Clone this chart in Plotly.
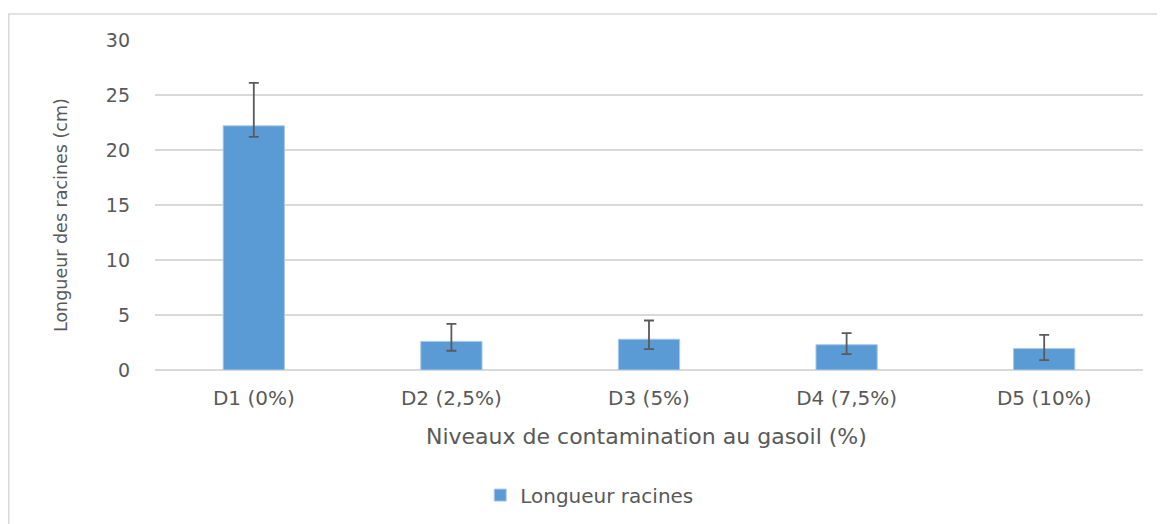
import plotly.graph_objects as go

categories = ["D1 (0%)", "D2 (2,5%)", "D3 (5%)", "D4 (7,5%)", "D5 (10%)"]
values = [22.2, 2.6, 2.8, 2.3, 1.95]
err_plus = [3.9, 1.6, 1.7, 1.05, 1.25]
err_minus = [1.0, 0.85, 0.9, 0.85, 1.05]
series_name = "Longueur racines"
y_ticks = [0, 5, 10, 15, 20, 25, 30]

font_family = "DejaVu Sans, sans-serif"
text_color = "#595959"

fig = go.Figure()
fig.add_trace(go.Bar(
    x=categories, y=values, name=series_name,
    marker=dict(color="#5b9bd5", line=dict(color="#a9c8ea", width=1)),
    width=0.31,
    error_y=dict(type="data", symmetric=False, array=err_plus, arrayminus=err_minus,
                 color="#5a5a5a", thickness=1.8, width=5),
))

fig.update_layout(
    width=1165, height=524,
    margin=dict(l=147, r=30, t=32, b=162, autoexpand=False),
    paper_bgcolor="white", plot_bgcolor="white",
    font=dict(family=font_family, color=text_color, size=19),
    showlegend=True,
    legend=dict(orientation="h", x=0.44, y=-0.379, xanchor="center", yanchor="middle",
                font=dict(size=20, color=text_color), itemwidth=30),
    xaxis=dict(showgrid=False, showline=False, ticks="", ticklabelstandoff=14,
               tickfont=dict(size=20, color=text_color)),
    yaxis=dict(range=[0, 30], tickvals=y_ticks, showgrid=True, gridcolor="#d9d9d9",
               gridwidth=1.5, zeroline=True, zerolinecolor="#d9d9d9", zerolinewidth=1.5,
               showline=False, ticks="", ticklabelstandoff=24,
               tickfont=dict(size=19, color=text_color)),
    shapes=[dict(type="rect", xref="paper", yref="paper",
                 x0=-0.148, x1=1.05, y0=-0.6, y1=1.079,
                 line=dict(color="#d9d9d9", width=1.5), fillcolor="rgba(0,0,0,0)", layer="below")],
    annotations=[
        dict(text="Longueur des racines (cm)", xref="paper", yref="paper",
             x=-0.095, y=0.47, textangle=-90, showarrow=False,
             xanchor="center", yanchor="middle", font=dict(size=17.5, color=text_color)),
        dict(text="Niveaux de contamination au gasoil (%)", xref="paper", yref="paper",
             x=0.497, y=-0.2, showarrow=False, xanchor="center", yanchor="middle",
             font=dict(size=22, color=text_color)),
    ],
)

fig.write_html("out.html")
